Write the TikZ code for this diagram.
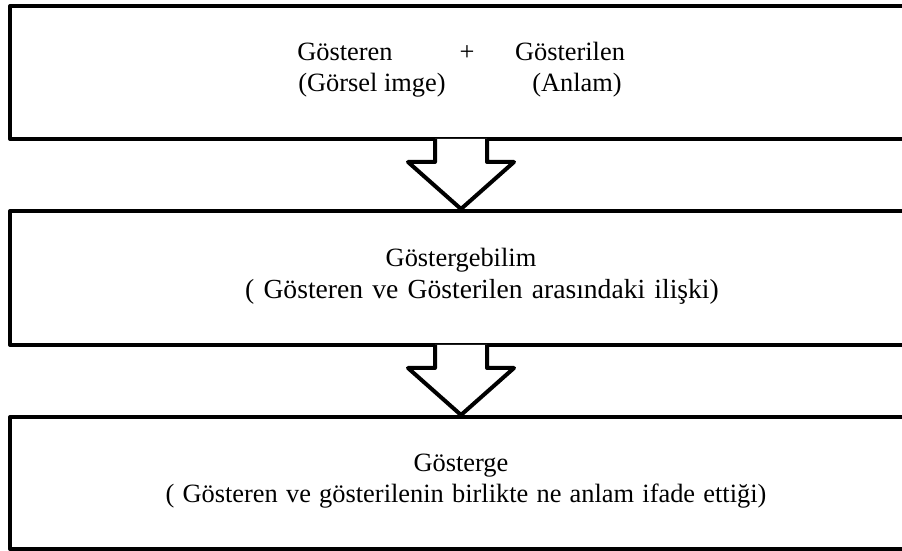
\documentclass[tikz,border=0pt]{standalone}
\usepackage{fontspec}
\setmainfont{Liberation Serif}
\usetikzlibrary{calc}
\tikzset{
        box/.style={draw, line width=2pt, line join=round, minimum width=451pt, inner sep=0pt}, % the three frames
        txt/.style={anchor=base, inner sep=0pt, font=\fontsize{13.2}{15.5}\selectfont}, % every text line
        blockarrow/.style={line width=2pt, line join=round}, % outline of the hollow arrows
    }
\begin{document}
\begin{tikzpicture}[x=0.5pt, y=-0.5pt]
    \useasboundingbox (0,0) rectangle (902,551);
    \clip (0,0) rectangle (902,551);
    % frames
    \node[box, minimum height=66.5pt] (pair) at (461,72.5) {};
    \node[box, minimum height=67pt] (study) at (461,278) {};
    \node[box, minimum height=66pt] (sign) at (461,483) {};
    % hollow arrows between the frames
    \foreach \a/\b in {pair/study, study/sign} {
      \fill[white] ($(\a.south)+(-26,-2)$) -- ($(\a.south)+(-26,21)$) -- ($(\a.south)+(-53,21)$)
        -- (\b.north) -- ($(\a.south)+(53,21)$) -- ($(\a.south)+(26,21)$) -- ($(\a.south)+(26,-2)$) -- cycle;
      \draw[blockarrow] ($(\a.south)+(-26,-2)$) -- ($(\a.south)+(-26,21)$) -- ($(\a.south)+(-53,21)$)
        -- (\b.north) -- ($(\a.south)+(53,21)$) -- ($(\a.south)+(26,21)$) -- ($(\a.south)+(26,-2)$);
    }
    % texts
    \node[txt] (sr) at (345,61) {Gösteren};
    \node[txt] (plus) at (467,61) {+};
    \node[txt] (sd) at (570,61) {Gösterilen};
    \node[txt] (img) at (372,92) {(Görsel imge)};
    \node[txt] (mean) at (577,92) {(Anlam)};
    \node[txt] (bilim) at (461,267) {Göstergebilim};
    \node[txt, font=\fontsize{13.8}{15.5}\selectfont] (rel) at (482,299) {\spaceskip=4.6pt ( Gösteren ve Gösterilen arasındaki ilişki)};
    \node[txt] (gosterge) at (461,472) {Gösterge};
    \node[txt] (birlik) at (466,503) {\spaceskip=4.1pt ( Gösteren ve gösterilenin birlikte ne anlam ifade ettiği)};
\end{tikzpicture}
\end{document}
